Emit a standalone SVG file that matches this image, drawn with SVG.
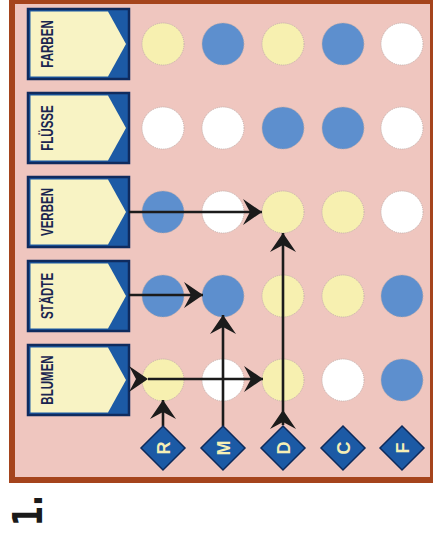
<svg xmlns="http://www.w3.org/2000/svg" width="433" height="534" viewBox="0 0 433 534">
<defs>
<style>
.lbl{font-family:"Liberation Sans","DejaVu Sans",sans-serif;font-weight:bold;font-size:17px;fill:#1a2550;text-anchor:middle}
.dl{font-family:"Liberation Sans","DejaVu Sans",sans-serif;font-weight:bold;font-size:18px;fill:#f6efb5;text-anchor:middle}
.box{fill:#1c5aa5;stroke:#0f2b5e;stroke-width:2.5}
.cream{fill:#f8f3c4}
.dot{stroke:#b8aaa6;stroke-width:0.8;stroke-dasharray:1 1}
.y{fill:#f7f0b0}
.b{fill:#5d8fce}
.w{fill:#ffffff}
.dia{fill:#1c5aa5;stroke:#0e2a5a;stroke-width:1.5}
.con{stroke:#1b1b1b;stroke-width:2.6;fill:none}
</style>
<marker id="ah" viewBox="-20 -14 21 28" refX="0" refY="0" markerUnits="userSpaceOnUse" markerWidth="21" markerHeight="28" orient="auto">
<path d="M0,0 L-19,-13 L-12,0 L-19,13 Z" fill="#1b1b1b"/>
</marker>
</defs>
<rect x="0" y="0" width="433" height="534" fill="#ffffff"/>
<rect x="9" y="-4" width="425" height="487" fill="#a5441c"/>
<rect x="15" y="4" width="415" height="473" fill="#efc6bf"/>

<g id="label-farben">
<rect class="box" x="28" y="9" width="101" height="70"/>
<polygon class="cream" points="30.5,11.5 108,11.5 126,44 108,76.5 30.5,76.5"/>
<text class="lbl" transform="translate(52.5,44) rotate(-90) scale(0.68,1)">FARBEN</text>
</g>
<g id="label-fluesse">
<rect class="box" x="28" y="93" width="101" height="70"/>
<polygon class="cream" points="30.5,95.5 108,95.5 126,128 108,160.5 30.5,160.5"/>
<text class="lbl" transform="translate(52.5,128) rotate(-90) scale(0.68,1)">FLÜSSE</text>
</g>
<g id="label-verben">
<rect class="box" x="28" y="177" width="101" height="70"/>
<polygon class="cream" points="30.5,179.5 108,179.5 126,212 108,244.5 30.5,244.5"/>
<text class="lbl" transform="translate(52.5,212) rotate(-90) scale(0.68,1)">VERBEN</text>
</g>
<g id="label-staedte">
<rect class="box" x="28" y="261" width="101" height="70"/>
<polygon class="cream" points="30.5,263.5 108,263.5 126,296 108,328.5 30.5,328.5"/>
<text class="lbl" transform="translate(52.5,296) rotate(-90) scale(0.68,1)">STÄDTE</text>
</g>
<g id="label-blumen">
<rect class="box" x="28" y="345" width="101" height="70"/>
<polygon class="cream" points="30.5,347.5 108,347.5 126,380 108,412.5 30.5,412.5"/>
<text class="lbl" transform="translate(52.5,380) rotate(-90) scale(0.68,1)">BLUMEN</text>
</g>

<g id="row-farben">
<circle id="c11" class="y dot" cx="163" cy="44" r="21"/>
<circle id="c12" class="b dot" cx="223" cy="44" r="21"/>
<circle id="c13" class="y dot" cx="283" cy="44" r="21"/>
<circle id="c14" class="b dot" cx="343" cy="44" r="21"/>
<circle id="c15" class="w dot" cx="402" cy="44" r="21"/>
</g>
<g id="row-fluesse">
<circle id="c21" class="w dot" cx="163" cy="128" r="21"/>
<circle id="c22" class="w dot" cx="223" cy="128" r="21"/>
<circle id="c23" class="b dot" cx="283" cy="128" r="21"/>
<circle id="c24" class="b dot" cx="343" cy="128" r="21"/>
<circle id="c25" class="w dot" cx="402" cy="128" r="21"/>
</g>
<g id="row-verben">
<circle id="c31" class="b dot" cx="163" cy="212" r="21"/>
<circle id="c32" class="w dot" cx="223" cy="212" r="21"/>
<circle id="c33" class="y dot" cx="283" cy="212" r="21"/>
<circle id="c34" class="y dot" cx="343" cy="212" r="21"/>
<circle id="c35" class="w dot" cx="402" cy="212" r="21"/>
</g>
<g id="row-staedte">
<circle id="c41" class="b dot" cx="163" cy="296" r="21"/>
<circle id="c42" class="b dot" cx="223" cy="296" r="21"/>
<circle id="c43" class="y dot" cx="283" cy="296" r="21"/>
<circle id="c44" class="y dot" cx="343" cy="296" r="21"/>
<circle id="c45" class="b dot" cx="402" cy="296" r="21"/>
</g>
<g id="row-blumen">
<circle id="c51" class="y dot" cx="163" cy="380" r="21"/>
<circle id="c52" class="w dot" cx="223" cy="380" r="21"/>
<circle id="c53" class="y dot" cx="283" cy="380" r="21"/>
<circle id="c54" class="w dot" cx="343" cy="380" r="21"/>
<circle id="c55" class="b dot" cx="402" cy="380" r="21"/>
</g>

<g id="connectors">
<path class="con" d="M129,212 L262,212" marker-end="url(#ah)"/>
<path class="con" d="M129,295 L203,295" marker-end="url(#ah)"/>
<path class="con" d="M148,379 L263,379" marker-start="url(#ah)" marker-end="url(#ah)"/>
<path class="con" d="M163,426 L163,400" marker-end="url(#ah)"/>
<path class="con" d="M223,426 L223,315" marker-end="url(#ah)"/>
<path class="con" d="M283,425 L283,410 L283,233" marker-mid="url(#ah)" marker-end="url(#ah)"/>
</g>

<g id="key-r">
<polygon class="dia" points="163,426 185,448 163,470 141,448"/>
<text class="dl" transform="translate(169.5,448) rotate(-90)">R</text>
</g>
<g id="key-m">
<polygon class="dia" points="223,426 245,448 223,470 201,448"/>
<text class="dl" transform="translate(229.5,448) rotate(-90)">M</text>
</g>
<g id="key-d">
<polygon class="dia" points="283,426 305,448 283,470 261,448"/>
<text class="dl" transform="translate(289.5,448) rotate(-90)">D</text>
</g>
<g id="key-c">
<polygon class="dia" points="343,426 365,448 343,470 321,448"/>
<text class="dl" transform="translate(349.5,448) rotate(-90)">C</text>
</g>
<g id="key-f">
<polygon class="dia" points="402,426 424,448 402,470 380,448"/>
<text class="dl" transform="translate(408.5,448) rotate(-90)">F</text>
</g>

<text transform="translate(42,526) rotate(-90) scale(0.72,1)" font-family="DejaVu Sans, sans-serif" font-weight="bold" font-size="40" fill="#1a1a1a">1.</text>
</svg>
